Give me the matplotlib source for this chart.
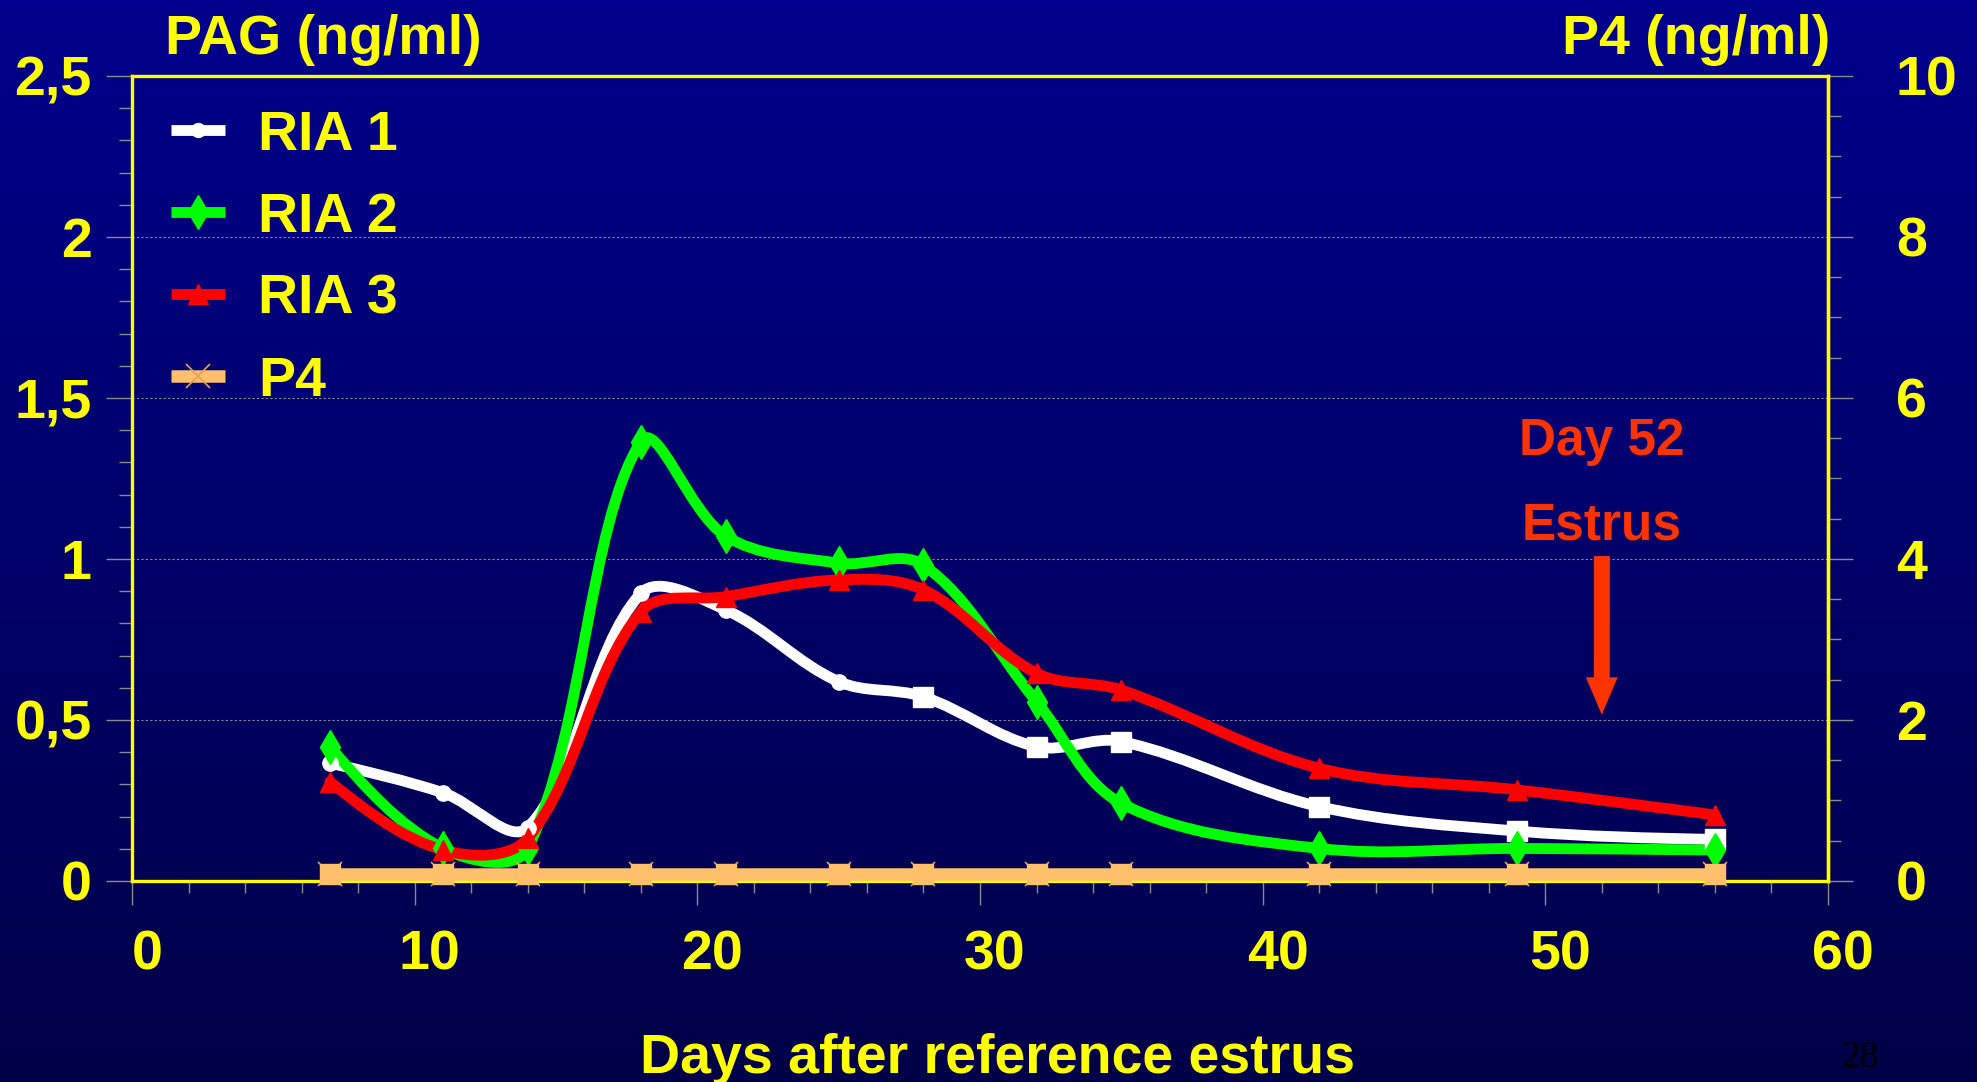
import numpy as np
import matplotlib
matplotlib.use("Agg")
import matplotlib.pyplot as plt
from matplotlib.path import Path
from matplotlib.patches import PathPatch, FancyArrowPatch
from matplotlib.lines import Line2D
from matplotlib.transforms import ScaledTranslation

plt.rcParams['font.family'] = ['Liberation Sans', 'DejaVu Sans']
plt.rcParams['font.weight'] = 'bold'

# data
days = [7, 11, 14, 18, 21, 25, 28, 32, 35, 42, 49, 56]
ria1 = [0.366, 0.274, 0.166, 0.893, 0.842, 0.619, 0.572, 0.417, 0.433, 0.231, 0.155, 0.129]
ria2 = [0.417, 0.101, 0.101, 1.364, 1.071, 0.987, 0.981, 0.557, 0.241, 0.101, 0.101, 0.096]
ria3 = [0.308, 0.096, 0.133, 0.836, 0.883, 0.935, 0.904, 0.645, 0.593, 0.350, 0.283, 0.205]
p4 = [0.09] * 12

pag_ticks = [0, 0.5, 1, 1.5, 2, 2.5]
pag_labels = ['0', '0,5', '1', '1,5', '2', '2,5']
p4_ticks = [0, 2, 4, 6, 8, 10]
x_ticks = [0, 10, 20, 30, 40, 50, 60]

YELLOW = '#FFFF00'
GREY = '#8a8a8a'
ORANGE = '#FFBF6B'
ARROW_RED = '#FF3300'
LW = 7.8
TENSION = 0.35


def smooth_path(axis, xs, ys):
    # excel style smoothed line: bezier with distance weighted tangents,
    # worked out in screen space, then taken back to data space
    pts = axis.transData.transform(np.column_stack([xs, ys]).astype(float))
    n = len(pts)
    ctrl = []
    for i in range(n - 1):
        p1 = pts[i]
        p2 = pts[i + 1]
        d12 = np.hypot(*(p2 - p1))
        c1 = c2 = None
        if i > 0:
            p0 = pts[i - 1]
            d01 = np.hypot(*(p1 - p0))
            c1 = p1 + (p2 - p0) * d12 / (d01 + d12) * TENSION
        if i + 2 < n:
            p3 = pts[i + 2]
            d23 = np.hypot(*(p3 - p2))
            c2 = p2 - (p3 - p1) * d12 / (d12 + d23) * TENSION
        ctrl.append([c1, c2])
    # end segments: aim the free control point at the other one
    ctrl[0][0] = pts[0] + (ctrl[0][1] - pts[0]) / 2
    ctrl[-1][1] = pts[-1] + (ctrl[-1][0] - pts[-1]) / 2
    verts = [pts[0]]
    codes = [Path.MOVETO]
    for i, (c1, c2) in enumerate(ctrl):
        verts += [c1, c2, pts[i + 1]]
        codes += [Path.CURVE4] * 3
    verts = axis.transData.inverted().transform(np.array(verts))
    return Path(verts, codes)


fig = plt.figure(figsize=(19.77, 10.82), dpi=100)

# background gradient
bg = fig.add_axes([0, 0, 1, 1], zorder=-10)
grad = np.linspace(0, 1, 256).reshape(-1, 1)
top = np.array([0, 0, 140]) / 255
bot = np.array([0, 0, 72]) / 255
img = top + (bot - top) * grad[:, :, None]
bg.imshow(img, aspect='auto', extent=[0, 1, 0, 1])
bg.axis('off')

ax = fig.add_axes([0.0668, 0.1858, 0.8578, 0.7440])
ax.set_facecolor('none')
ax.set_xlim(0, 60)
ax.set_ylim(0, 2.5)

for s in ax.spines.values():
    s.set_color(YELLOW)
    s.set_linewidth(2.4)

ax.set_yticks(pag_ticks)
ax.set_yticklabels(pag_labels)
ax.set_yticks(np.arange(0, 2.51, 0.1), minor=True)
ax.set_xticks(x_ticks)
ax.set_xticks(np.arange(0, 61, 2), minor=True)
ax.tick_params(axis='both', which='both', colors=GREY, width=1,
               labelcolor=YELLOW, labelsize=40)
ax.tick_params(axis='y', which='major', length=19, pad=10)
ax.tick_params(axis='y', which='minor', length=9.5)
ax.tick_params(axis='x', which='major', length=17, pad=18)
ax.tick_params(axis='x', which='minor', length=8.5)
for lab in ax.get_xticklabels():
    lab.set_transform(lab.get_transform() + ScaledTranslation(0.15, 0, fig.dpi_scale_trans))

ax.grid(axis='y', which='major', color=GREY, linestyle=(0, (2, 2)), linewidth=0.8)
ax.set_axisbelow(True)

series = [(ria1, 'white'), (ria2, '#00FF00'), (ria3, '#FF0000')]
for vals, col in series:
    ax.add_patch(PathPatch(smooth_path(ax, days, vals), fill=False, edgecolor=col,
                           lw=LW, capstyle='round', joinstyle='round', zorder=3))

ax.plot(days[:6], ria1[:6], 'o', color='white', ms=11, zorder=4)
ax.plot(days[6:], ria1[6:], 's', color='white', ms=14, zorder=4)
ax.plot(days, ria2, 'd', color='#00FF00', ms=17, zorder=4)
ax.plot(days, ria3, '^', color='#FF0000', ms=14, zorder=4)

# right axis, P4
ax2 = ax.twinx()
ax2.set_ylim(0, 10)
for k, s in ax2.spines.items():
    s.set_visible(k == 'right')
ax2.spines['right'].set_color(YELLOW)
ax2.spines['right'].set_linewidth(2.4)
ax2.set_yticks(p4_ticks)
ax2.set_yticks(np.arange(0, 10.01, 0.5), minor=True)
ax2.tick_params(axis='y', which='both', colors=GREY, width=1,
                labelcolor=YELLOW, labelsize=40)
ax2.tick_params(axis='y', which='major', length=18, pad=31)
ax2.tick_params(axis='y', which='minor', length=9)

ax2.plot(days, p4, '-', color=ORANGE, lw=9, marker='x', ms=17, mew=1.2,
         mec='#E8A050', solid_capstyle='butt', zorder=3, clip_on=False)
ax2.plot(days, p4, 's', color=ORANGE, ms=14, zorder=4, clip_on=False)

# annotation
ax2.text(52, 1.323 * 4, 'Day 52', color=ARROW_RED, fontsize=37,
         ha='center', va='baseline')
ax2.text(52, 1.059 * 4, 'Estrus', color=ARROW_RED, fontsize=37,
         ha='center', va='baseline')
arr = FancyArrowPatch((52, 1.009 * 4), (52, 0.516 * 4),
                      arrowstyle='simple,head_length=27,head_width=23,tail_width=11.5',
                      mutation_scale=1, color=ARROW_RED, shrinkA=0, shrinkB=0, lw=0)
ax2.add_patch(arr)

handles = [
    Line2D([], [], color='white', lw=LW, marker='o', ms=10, solid_capstyle='butt'),
    Line2D([], [], color='#00FF00', lw=LW, marker='d', ms=17, solid_capstyle='butt'),
    Line2D([], [], color='#FF0000', lw=LW, marker='^', ms=14, solid_capstyle='butt'),
    Line2D([], [], color=ORANGE, lw=9, marker='x', ms=17, mew=1.2, mec='#E8A050',
           solid_capstyle='butt'),
]
leg = ax2.legend(handles, ['RIA 1', 'RIA 2', 'RIA 3', 'P4'], loc='upper left',
                 bbox_to_anchor=(0.023, 0.958), frameon=False, fontsize=40,
                 handlelength=0.97, handletextpad=0.6, labelspacing=0.54,
                 borderpad=0, borderaxespad=0)
for t in leg.get_texts():
    t.set_color(YELLOW)

fig.text(165 / 1977, 1 - 54 / 1082, 'PAG (ng/ml)', color=YELLOW, fontsize=40,
         ha='left', va='baseline')
fig.text(1830 / 1977, 1 - 54 / 1082, 'P4 (ng/ml)', color=YELLOW, fontsize=40,
         ha='right', va='baseline')
fig.text(997 / 1977, 1 - 1073 / 1082, 'Days after reference estrus', color=YELLOW,
         fontsize=40, ha='center', va='baseline')
fig.text(1841 / 1977, 1 - 1067 / 1082, '28', color='black', fontsize=27,
         family='Liberation Serif', weight='normal', ha='left', va='baseline')

fig.savefig('out.png', dpi=100)
